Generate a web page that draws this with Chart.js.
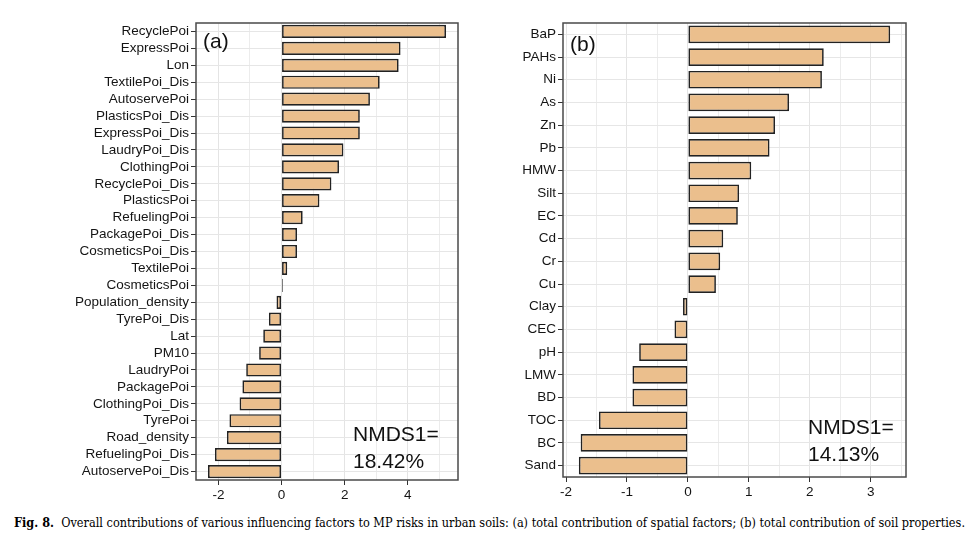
<!DOCTYPE html>
<html>
<head>
<meta charset="utf-8">
<script src="https://cdn.jsdelivr.net/npm/chart.js@4.4.1/dist/chart.umd.min.js"></script>
<style>
  body { margin: 0; background: #fff; width: 978px; height: 548px; overflow: hidden; position: relative; }
  .box { position: absolute; top: 0; height: 505px; }
  #caption { position: absolute; left: 14px; top: 515px; font-family: "DejaVu Serif", serif; font-size: 12.8px; color: #000; white-space: nowrap; transform-origin: 0 0; }
</style>
</head>
<body>
<div class="box" style="left:0;width:470px"><canvas id="chartA"></canvas></div>
<div class="box" style="left:480px;width:440px"><canvas id="chartB"></canvas></div>
<div id="caption"><b>Fig. 8.</b>&nbsp; Overall contributions of various influencing factors to MP risks in urban soils: (a) total contribution of spatial factors; (b) total contribution of soil properties.</div>
<script>
// panel (a): spatial factors
const spatialLabels = ["RecyclePoi", "ExpressPoi", "Lon", "TextilePoi_Dis", "AutoservePoi", "PlasticsPoi_Dis",
  "ExpressPoi_Dis", "LaudryPoi_Dis", "ClothingPoi", "RecyclePoi_Dis", "PlasticsPoi", "RefuelingPoi",
  "PackagePoi_Dis", "CosmeticsPoi_Dis", "TextilePoi", "CosmeticsPoi", "Population_density", "TyrePoi_Dis",
  "Lat", "PM10", "LaudryPoi", "PackagePoi", "ClothingPoi_Dis", "TyrePoi", "Road_density",
  "RefuelingPoi_Dis", "AutoservePoi_Dis"];
const spatialValues = [5.21, 3.77, 3.71, 3.11, 2.80, 2.48, 2.48, 1.96, 1.82, 1.58, 1.20, 0.67,
  0.49, 0.49, 0.18, 0.04, -0.16, -0.40, -0.58, -0.71, -1.12, -1.24, -1.33, -1.65, -1.73, -2.11, -2.33];
const spatialTicks = [-2, 0, 2, 4];

// panel (b): soil properties
const soilLabels = ["BaP", "PAHs", "Ni", "As", "Zn", "Pb", "HMW", "Silt", "EC", "Cd", "Cr", "Cu",
  "Clay", "CEC", "pH", "LMW", "BD", "TOC", "BC", "Sand"];
const soilValues = [3.32, 2.23, 2.20, 1.66, 1.43, 1.34, 1.04, 0.84, 0.82, 0.58, 0.53, 0.46,
  -0.08, -0.22, -0.80, -0.91, -0.91, -1.46, -1.76, -1.79];
const soilTicks = [-2, -1, 0, 1, 2, 3];

const FILL = "#ebbf8d";
const TEXT = "#141414";
const FONT = "'Liberation Sans', Arial, sans-serif";

const framePlugin = {
  id: "frame",
  afterDraw(chart, args, opts) {
    const { ctx, chartArea: a } = chart;
    ctx.save();
    ctx.strokeStyle = "#4a4a4a";
    ctx.lineWidth = 1.5;
    ctx.strokeRect(a.left, a.top, a.right - a.left, a.bottom - a.top);
    ctx.fillStyle = "#111";
    ctx.textBaseline = "middle";
    ctx.font = "21px " + FONT;
    ctx.fillText(opts.tag, a.left + 7, a.top + opts.tagY);
    ctx.fillText("NMDS1=", a.left + opts.nx, a.top + opts.ny);
    ctx.fillText(opts.pct, a.left + opts.nx, a.top + opts.ny + 27);
    ctx.restore();
  }
};

function makeChart(id, labels, values, min, max, step, majors, yWidth, pad, frameOpts) {
  return new Chart(document.getElementById(id), {
    type: "bar",
    data: {
      labels: labels,
      datasets: [{
        data: values,
        backgroundColor: FILL,
        borderColor: "#222",
        borderWidth: 1.7,
        borderSkipped: false,
        categoryPercentage: 1,
        barPercentage: 0.78
      }]
    },
    options: {
      indexAxis: "y",
      responsive: true,
      maintainAspectRatio: false,
      animation: false,
      layout: { padding: pad },
      plugins: { legend: { display: false }, tooltip: { enabled: false }, frame: frameOpts },
      scales: {
        x: {
          min: min, max: max,
          border: { display: false },
          grid: {
            color: ctx => majors.includes(ctx.tick.value) ? "#e4e4e4" : "#ececec",
            lineWidth: 1,
            tickColor: ctx => majors.includes(ctx.tick.value) ? "#333" : "rgba(0,0,0,0)",
            tickLength: 5
          },
          ticks: {
            stepSize: step,
            includeBounds: false,
            autoSkip: false,
            maxRotation: 0,
            padding: 2,
            color: TEXT,
            font: { family: FONT, size: 13.5 },
            callback: v => majors.includes(v) ? String(v) : ""
          },
          afterFit: s => { s.height = 25; }
        },
        y: {
          border: { display: false },
          grid: { offset: false, color: "#e6e6e6", tickColor: "#333", tickLength: 5 },
          ticks: { padding: 2, autoSkip: false, color: TEXT, font: { family: FONT, size: 13.5 } },
          afterFit: s => { s.width = yWidth; }
        }
      }
    },
    plugins: [framePlugin]
  });
}

makeChart("chartA", spatialLabels, spatialValues, -2.71, 5.59, 1, spatialTicks, 196,
  { top: 23, right: 12, left: 0, bottom: 0 },
  { tag: "(a)", tagY: 19, pct: "18.42%", nx: 157, ny: 412 });

makeChart("chartB", soilLabels, soilValues, -2.05, 3.58, 0.5, soilTicks, 83,
  { top: 23, right: 14, left: 0, bottom: 3 },
  { tag: "(b)", tagY: 22, pct: "14.13%", nx: 245, ny: 405 });

// stretch caption to the printed width
const cap = document.getElementById("caption");
cap.style.transform = "scaleX(" + (951 / cap.scrollWidth) + ")";
</script>
</body>
</html>
